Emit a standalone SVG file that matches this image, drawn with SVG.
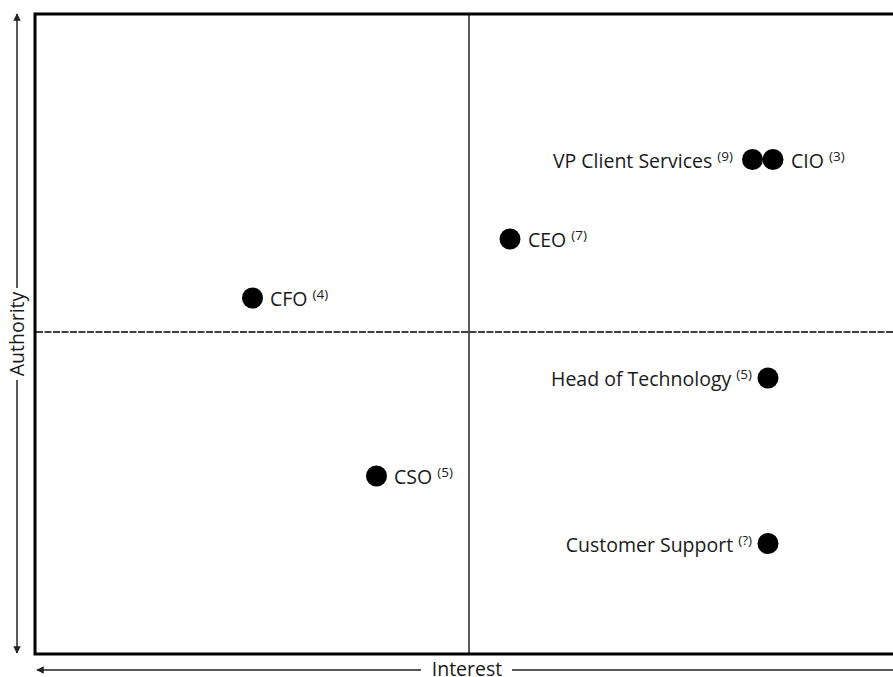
<svg xmlns="http://www.w3.org/2000/svg" width="893" height="677" viewBox="0 0 893 677">
<defs>
<style>
text{font-family:"Open Sans","Noto Sans","Liberation Sans",sans-serif;fill:#1a1a1a;font-size:19.5px}
.sup{font-size:13.5px}
.dot{fill:#000}
.axis{stroke:#222;stroke-width:1.5;fill:none}
</style>
<marker id="ah" viewBox="0 0 10 10" refX="9" refY="5" markerWidth="5" markerHeight="5" orient="auto-start-reverse">
<path d="M0,0 L10,5 L0,10 z" fill="#222"/>
</marker>
</defs>
<rect width="893" height="677" fill="#fff"/>
<g id="frame">
<path d="M893,14 H35 V654 H893" fill="none" stroke="#000" stroke-width="3"/>
<line x1="469" y1="14" x2="469" y2="654" stroke="#000" stroke-width="1.3"/>
<line x1="36" y1="332" x2="893" y2="332" stroke="#000" stroke-width="1.3" stroke-dasharray="7,1.5"/>
</g>
<g id="connectors">
<line class="axis" x1="17" y1="288" x2="17" y2="14" marker-end="url(#ah)"/>
<line class="axis" x1="17" y1="380" x2="17" y2="653" marker-end="url(#ah)"/>
<line class="axis" x1="421" y1="670" x2="37" y2="670" marker-end="url(#ah)"/>
<line class="axis" x1="512" y1="670" x2="893" y2="670"/>
</g>
<g id="axis-labels">
<text x="0" y="0" transform="translate(24,334) rotate(-90)" text-anchor="middle">Authority</text>
<text x="467" y="675.5" text-anchor="middle">Interest</text>
</g>
<g id="vp"><circle class="dot" cx="752.5" cy="159.5" r="10.5"/><text x="733" y="167.5" text-anchor="end">VP Client Services <tspan class="sup" dy="-7">(9)</tspan></text></g>
<g id="cio"><circle class="dot" cx="773" cy="159.5" r="10.5"/><text x="791" y="167.5">CIO <tspan class="sup" dy="-7">(3)</tspan></text></g>
<g id="ceo"><circle class="dot" cx="510" cy="239" r="10.5"/><text x="528" y="247">CEO <tspan class="sup" dy="-7">(7)</tspan></text></g>
<g id="cfo"><circle class="dot" cx="252.5" cy="298" r="10.5"/><text x="270" y="306">CFO <tspan class="sup" dy="-7">(4)</tspan></text></g>
<g id="hot"><circle class="dot" cx="768" cy="378" r="10.5"/><text x="752" y="386" text-anchor="end">Head of Technology <tspan class="sup" dy="-7">(5)</tspan></text></g>
<g id="cso"><circle class="dot" cx="376.5" cy="476" r="10.5"/><text x="394" y="484">CSO <tspan class="sup" dy="-7">(5)</tspan></text></g>
<g id="cs"><circle class="dot" cx="768" cy="543.5" r="10.5"/><text x="752" y="551.5" text-anchor="end">Customer Support <tspan class="sup" dy="-7">(?)</tspan></text></g>
</svg>
